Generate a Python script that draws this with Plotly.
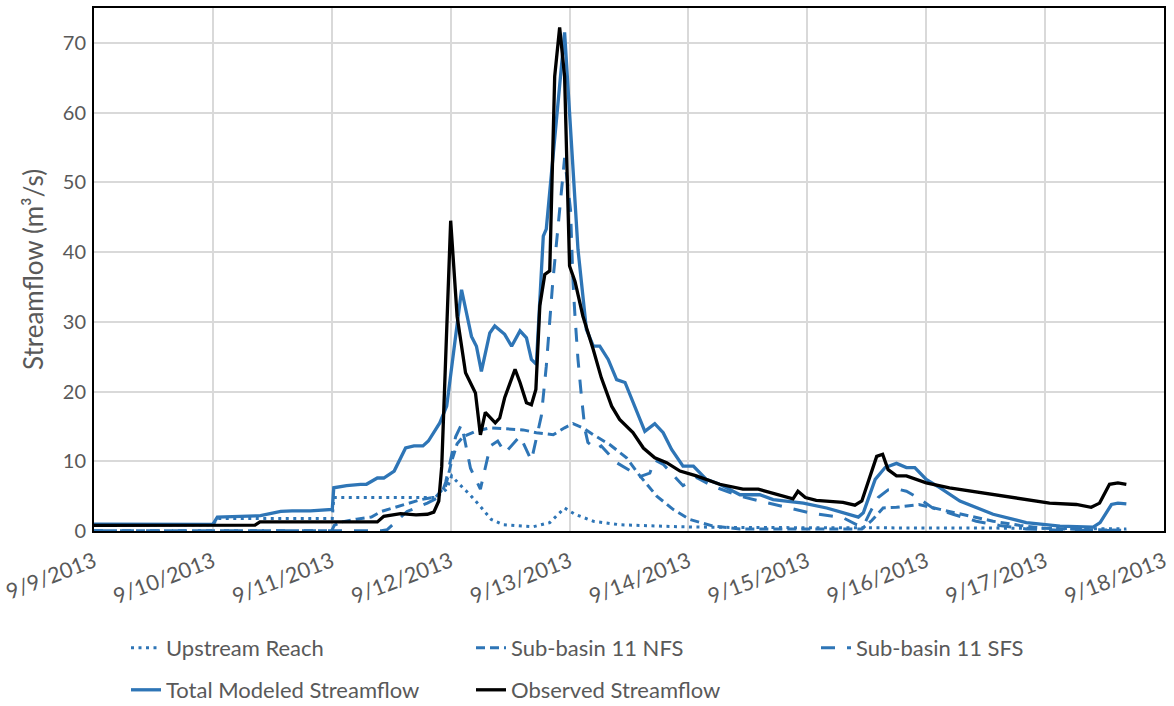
import pandas as pd
import plotly.graph_objects as go

BASE = pd.Timestamp("2013-09-09 00:00")

# ---- data (hours since 9/9/2013 00:00, streamflow m3/s) ----
upstream_h = [0, 24, 24.9, 48.1, 48.4, 66, 69, 71.2, 72.2, 73.5, 75.9, 77.9, 80.2, 82.6, 88.6, 92.0,
              94.0, 95.0, 97.1, 100.8, 106.1, 118.3, 130, 150, 170, 190, 208.4]
upstream_v = [0.9, 0.9, 1.8, 1.8, 4.8, 4.8, 4.8, 6.0, 7.9, 6.9, 5.2, 3.6, 1.65, 0.9, 0.6, 1.2,
              2.6, 3.3, 2.4, 1.4, 0.9, 0.6, 0.5, 0.5, 0.5, 0.4, 0.3]

nfs_h = [0, 48, 48.5, 50, 53, 56, 58, 62, 66, 69, 71, 72.2, 73.3, 74.5, 77, 80, 83, 86.6, 89.3, 92.7,
         95, 96.7, 98.7, 100.8, 104.1, 107.5, 110.2, 113.6, 116.9, 120.3, 125, 130.4, 140, 150, 155,
         157, 159.3, 162, 164, 166.5, 170.8, 176.2, 181.5, 186.9, 191.6, 200, 208.4]
nfs_v = [0.05, 0.05, 0.8, 1.3, 1.7, 2.0, 2.8, 3.6, 4.5, 4.9, 6.5, 10.0, 12.5, 13.5, 14.3, 14.8, 14.7,
         14.5, 14.1, 13.8, 14.8, 15.4, 14.8, 13.8, 12.4, 10.5, 7.9, 5.0, 3.1, 1.65, 0.7, 0.3, 0.3, 0.3,
         0.3, 1.5, 3.3, 3.4, 3.6, 3.8, 3.1, 2.2, 1.4, 0.8, 0.4, 0.2, 0.1]

sfs_h = [0, 58, 59.2, 60.6, 63.2, 67.3, 70, 71, 72, 73, 74.2, 76, 78, 80, 81.5, 83, 86, 88.3, 90.3,
         91.3, 92.6, 95.0, 96.2, 96.7, 97.1, 97.7, 98.4, 99.1, 99.7, 101.4, 102.4, 105.5, 110.2, 112.2,
         113.2, 115, 118.9, 121.6, 125, 130.4, 134.4, 138.4, 144.5, 151.2, 154.0, 155.3, 156.6, 158.3,
         160.3, 162, 164, 166.3, 169.3, 173.4, 178.1, 182.8, 188.2, 195, 208.4]
sfs_v = [0.05, 0.05, 0.2, 1.1, 2.8, 4.0, 5.0, 7.0, 10.5, 13.5, 15.3, 9.0, 6.0, 12.2, 12.9, 11.2, 13.6,
         10.1, 16.5, 23.6, 35.6, 53.5, 46.0, 35.6, 30.8, 24.6, 19.3, 14.6, 12.7, 11.7, 12.2, 9.8, 7.8,
         8.3, 10.2, 9.5, 6.5, 7.7, 6.4, 5.0, 4.3, 3.6, 2.6, 1.9, 0.9, 0.7, 2.6, 4.8, 5.9, 6.05, 5.7,
         4.8, 3.3, 2.4, 1.4, 0.8, 0.3, 0.1, 0.05]

total_h = [0, 8, 16, 24, 24.9, 30, 33.6, 37.7, 40, 43.7, 46, 48.1, 48.4, 51, 53.8, 55, 57.2, 58.5,
           60.6, 62.9, 64.6, 66.4, 67.5, 69.8, 71.2, 74.2, 76.2, 77.2, 78.2, 79.9, 80.9, 82.9, 84.3,
           86.0, 87.3, 88.3, 89.3, 90.7, 91.3, 95.0, 97.7, 98.7, 99.4, 100.8, 102.1, 103.8, 105.5,
           107.2, 109.5, 111.2, 113.2, 114.9, 116.6, 118.9, 121.0, 123.6, 126.3, 130.4, 134.4, 137.1,
           143.2, 147.9, 154.3, 155.3, 157.7, 159.7, 162.0, 164.0, 165.7, 168.0, 170.8, 174.8, 181.5,
           188.2, 195.0, 201.7, 203.1, 205.4, 206.7, 208.4]
total_v = [1.0, 1.0, 0.95, 0.95, 2.0, 2.1, 2.2, 2.8, 2.9, 2.9, 3.0, 3.1, 6.2, 6.5, 6.7, 6.7, 7.6, 7.6,
           8.6, 11.9, 12.2, 12.2, 12.9, 15.5, 17.9, 34.6, 27.9, 26.5, 22.9, 28.4, 29.4, 28.2, 26.5,
           28.7, 27.7, 24.6, 23.9, 42.3, 43.3, 71.5, 40.4, 33.0, 28.9, 26.5, 26.5, 24.6, 21.7,
           21.3, 17.4, 14.3, 15.4, 14.1, 11.7, 9.3, 9.3, 7.4, 6.7, 5.2, 5.2, 4.5,
           4.0, 3.3, 2.0, 2.6, 7.4, 9.1, 9.7, 9.1, 9.1, 7.4, 6.2, 4.3, 2.4,
           1.2, 0.7, 0.55, 1.2, 3.8, 4.0, 3.9]

observed_h = [0, 10, 20.2, 24, 32.5, 33.5, 40, 48, 52, 57.2, 58.5, 61.9, 65, 67.3, 68.6, 69.6, 70.2,
              71.9, 72.0, 73.3, 75.0, 77.0, 78.0, 79.0, 81.0, 81.9, 82.9, 85.0, 86.0, 87.3, 88.3, 89.2,
              90.0, 91.0, 92.0, 93.0, 94.0, 95.0, 96.0, 97.1, 98.7, 100.8, 102.4, 104.5, 106.1, 108.8,
              110.9, 113.2, 115.6, 118.3, 121.6, 126.3, 131.0, 134.1, 137.8, 141.1, 142.1, 143.6,
              145.8, 151.2, 153.6, 155.0, 158.0, 159.2, 160.3, 162.0, 164.0, 168.0, 172.7, 181.5,
              184.2, 188.2, 192.9, 198.3, 201.3, 203.0, 205.0, 206.7, 208.4]
observed_v = [0.8, 0.8, 0.9, 0.85, 0.85, 1.3, 1.3, 1.4, 1.3, 1.3, 2.1, 2.5, 2.3, 2.4, 2.7, 4.3, 9.3,
              40.4, 44.5, 30.8, 22.7, 19.8, 13.8, 17.0, 15.5, 16.2, 19.1, 23.2, 21.3, 18.4, 18.1, 20.3,
              32.3, 36.8, 37.3, 65.2, 72.2, 65.2, 38.0, 35.8, 30.8, 26.0, 22.0, 17.9, 16.0, 14.1,
              11.9, 10.5, 9.8, 8.6, 7.9, 6.7, 6.0, 6.0, 5.2, 4.6, 5.7, 4.8,
              4.4, 4.1, 3.7, 4.3, 10.7, 11.0, 8.8, 7.9, 7.9, 6.9, 6.2, 5.2,
              5.0, 4.5, 4.0, 3.8, 3.4, 4.0, 6.7, 6.9, 6.7]

tick_days = list(range(10))
tick_labels = ["9/9/2013", "9/10/2013", "9/11/2013", "9/12/2013", "9/13/2013",
               "9/14/2013", "9/15/2013", "9/16/2013", "9/17/2013", "9/18/2013"]


def to_time(hours):
    return [BASE + pd.Timedelta(hours=h) for h in hours]


BLUE = "#2E75B6"
TXT = "#595959"
FONT = "Lato"

fig = go.Figure()
fig.add_trace(go.Scatter(x=to_time(upstream_h), y=upstream_v, mode="lines", name="Upstream Reach",
                         line=dict(color=BLUE, width=3, dash="3px,4.5px"), legend="legend"))
fig.add_trace(go.Scatter(x=to_time(nfs_h), y=nfs_v, mode="lines", name="Sub-basin 11 NFS",
                         line=dict(color=BLUE, width=3, dash="9px,5px"), legend="legend"))
fig.add_trace(go.Scatter(x=to_time(sfs_h), y=sfs_v, mode="lines", name="Sub-basin 11 SFS",
                         line=dict(color=BLUE, width=3, dash="14px,12px"), legend="legend"))
fig.add_trace(go.Scatter(x=to_time(total_h), y=total_v, mode="lines", name="Total Modeled Streamflow",
                         line=dict(color=BLUE, width=3.3), legend="legend2"))
fig.add_trace(go.Scatter(x=to_time(observed_h), y=observed_v, mode="lines", name="Observed Streamflow",
                         line=dict(color="black", width=3.3), legend="legend2"))

legend_common = dict(orientation="h", xref="container", yref="container", xanchor="left",
                     yanchor="top", entrywidth=300, font=dict(family=FONT, size=22, color=TXT),
                     bgcolor="rgba(0,0,0,0)", traceorder="normal")

fig.update_layout(
    width=1174, height=706,
    margin=dict(l=94, r=10, t=8, b=175),
    paper_bgcolor="white", plot_bgcolor="white",
    font=dict(family=FONT, color=TXT, size=20),
    legend=dict(x=126 / 1174, y=1 - 627 / 706, **legend_common),
    legend2=dict(x=126 / 1174, y=1 - 669 / 706, **legend_common),
    xaxis=dict(
        range=[BASE, BASE + pd.Timedelta(days=9)],
        tickvals=[BASE + pd.Timedelta(days=d) for d in tick_days],
        ticktext=tick_labels,
        tickangle=-21,
        automargin=False,
        showgrid=True, gridcolor="#D9D9D9", gridwidth=1.5,
        showline=True, linecolor="black", linewidth=2, mirror=True,
        ticks="", tickfont=dict(family=FONT, size=21.5, color=TXT),
        ticklabelstandoff=8,
        zeroline=False,
    ),
    yaxis=dict(
        range=[0, 75],
        tickvals=[0, 10, 20, 30, 40, 50, 60, 70],
        automargin=False,
        showgrid=True, gridcolor="#D9D9D9", gridwidth=1.5,
        showline=True, linecolor="black", linewidth=2, mirror=True,
        ticks="", tickfont=dict(family=FONT, size=20, color=TXT),
        ticklabelstandoff=2,
        zeroline=False,
        title=dict(text="Streamflow (m³/s)", font=dict(family=FONT, size=26, color=TXT), standoff=12),
    ),
)

fig.write_html("out.html", config={"displayModeBar": False},
               post_script="document.body.style.margin='0px';")
